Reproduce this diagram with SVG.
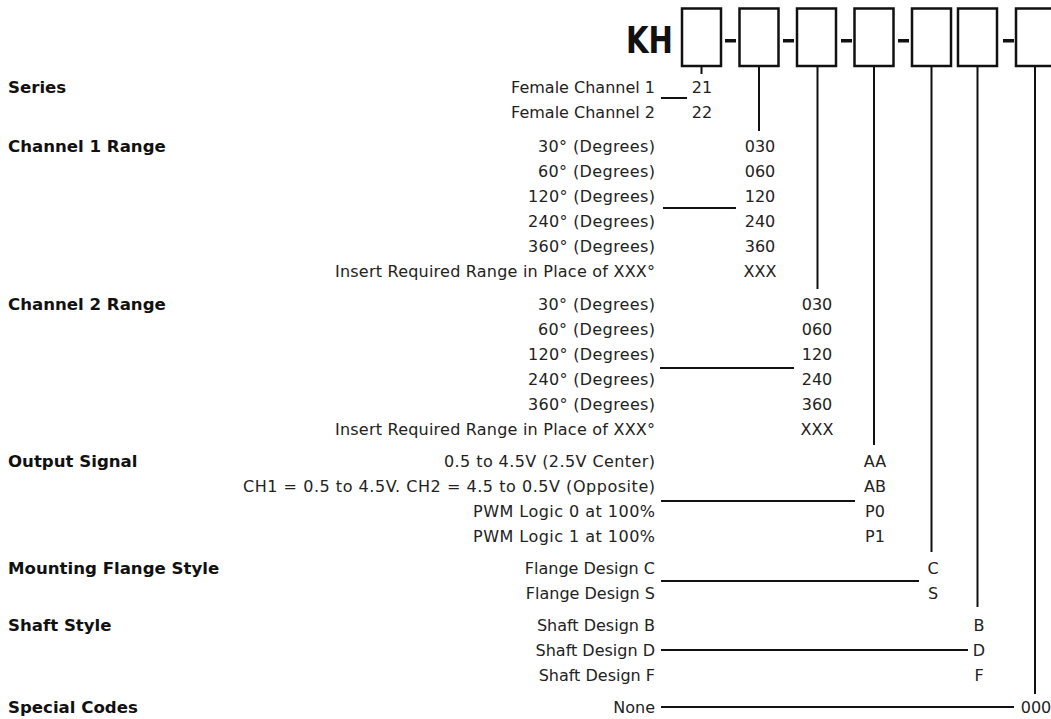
<svg xmlns="http://www.w3.org/2000/svg" width="1051" height="719" viewBox="0 0 1051 719">
<style>
.h{font-family:"DejaVu Sans",Verdana,sans-serif;font-weight:bold;font-size:16.6px;fill:#111}
.l{font-family:"DejaVu Sans",Verdana,sans-serif;font-size:16px;fill:#222;text-anchor:end}
.c{font-family:"DejaVu Sans",Verdana,sans-serif;font-size:16px;fill:#222;text-anchor:middle}
.box{fill:#fff;stroke:#111;stroke-width:2.5}
.ln{stroke:#111;stroke-width:2;fill:none}
.kh{font-family:"DejaVu Sans",Verdana,sans-serif;font-weight:bold;font-size:38px;fill:#111}
</style>
<rect width="1051" height="719" fill="#fff"/>
<g id="header">
<text class="kh" x="626" y="53" textLength="47" lengthAdjust="spacingAndGlyphs">KH</text>
<rect class="box" x="682" y="8.5" width="39" height="57.5"/>
<rect class="box" x="739.5" y="8.5" width="39" height="57.5"/>
<rect class="box" x="797" y="8.5" width="39" height="57.5"/>
<rect class="box" x="854.5" y="8.5" width="39" height="57.5"/>
<rect class="box" x="912" y="8.5" width="39" height="57.5"/>
<rect class="box" x="958" y="8.5" width="39" height="57.5"/>
<rect class="box" x="1016" y="8.5" width="39" height="57.5"/>
<g fill="#111">
<rect x="725" y="39" width="11" height="3.5"/>
<rect x="783" y="39" width="11" height="3.5"/>
<rect x="841" y="39" width="11" height="3.5"/>
<rect x="898" y="39" width="11" height="3.5"/>
<rect x="1003" y="39" width="11" height="3.5"/>
</g>
</g>
<g id="connectors">
<path class="ln" d="M701.5 66V74M759 66V131M817.5 66V289M874 66V445M931.5 66V552M977.5 66V607M1035 66V694"/>
<path class="ln" d="M661 98H687M663 208H736M660 368H794M661 501H855M661 581H919M661 650H968M661 707H1014"/>
</g>
<g id="series">
<text class="h" x="8" y="93">Series</text>
<text class="l" x="655" y="93">Female Channel 1</text>
<text class="l" x="655" y="118">Female Channel 2</text>
<text class="c" x="702" y="93">21</text>
<text class="c" x="702" y="118">22</text>
</g>
<g id="channel1">
<text class="h" x="8" y="152">Channel 1 Range</text>
<text class="l" x="655" y="152" textLength="117">30° (Degrees)</text>
<text class="l" x="655" y="177" textLength="117">60° (Degrees)</text>
<text class="l" x="655" y="202" textLength="127">120° (Degrees)</text>
<text class="l" x="655" y="227" textLength="127">240° (Degrees)</text>
<text class="l" x="655" y="252" textLength="127">360° (Degrees)</text>
<text class="l" x="655" y="277" textLength="320">Insert Required Range in Place of XXX°</text>
<text class="c" x="760" y="152">030</text>
<text class="c" x="760" y="177">060</text>
<text class="c" x="760" y="202">120</text>
<text class="c" x="760" y="227">240</text>
<text class="c" x="760" y="252">360</text>
<text class="c" x="760" y="277">XXX</text>
</g>
<g id="channel2">
<text class="h" x="8" y="310">Channel 2 Range</text>
<text class="l" x="655" y="310" textLength="117">30° (Degrees)</text>
<text class="l" x="655" y="335" textLength="117">60° (Degrees)</text>
<text class="l" x="655" y="360" textLength="127">120° (Degrees)</text>
<text class="l" x="655" y="385" textLength="127">240° (Degrees)</text>
<text class="l" x="655" y="410" textLength="127">360° (Degrees)</text>
<text class="l" x="655" y="435" textLength="320">Insert Required Range in Place of XXX°</text>
<text class="c" x="817" y="310">030</text>
<text class="c" x="817" y="335">060</text>
<text class="c" x="817" y="360">120</text>
<text class="c" x="817" y="385">240</text>
<text class="c" x="817" y="410">360</text>
<text class="c" x="817" y="435">XXX</text>
</g>
<g id="output">
<text class="h" x="8" y="467">Output Signal</text>
<text class="l" x="655" y="467" textLength="211">0.5 to 4.5V (2.5V Center)</text>
<text class="l" x="655" y="492" textLength="412">CH1 = 0.5 to 4.5V. CH2 = 4.5 to 0.5V (Opposite)</text>
<text class="l" x="655" y="517" textLength="182">PWM Logic 0 at 100%</text>
<text class="l" x="655" y="542" textLength="182">PWM Logic 1 at 100%</text>
<text class="c" x="875" y="467">AA</text>
<text class="c" x="875" y="492">AB</text>
<text class="c" x="875" y="517">P0</text>
<text class="c" x="875" y="542">P1</text>
</g>
<g id="flange">
<text class="h" x="8" y="574">Mounting Flange Style</text>
<text class="l" x="655" y="574">Flange Design C</text>
<text class="l" x="655" y="599">Flange Design S</text>
<text class="c" x="933" y="574">C</text>
<text class="c" x="933" y="599">S</text>
</g>
<g id="shaft">
<text class="h" x="8" y="631">Shaft Style</text>
<text class="l" x="655" y="631">Shaft Design B</text>
<text class="l" x="655" y="656">Shaft Design D</text>
<text class="l" x="655" y="681">Shaft Design F</text>
<text class="c" x="979" y="631">B</text>
<text class="c" x="979" y="656">D</text>
<text class="c" x="979" y="681">F</text>
</g>
<g id="special">
<text class="h" x="8" y="713">Special Codes</text>
<text class="l" x="655" y="713">None</text>
<text class="c" x="1036" y="713">000</text>
</g>
</svg>
